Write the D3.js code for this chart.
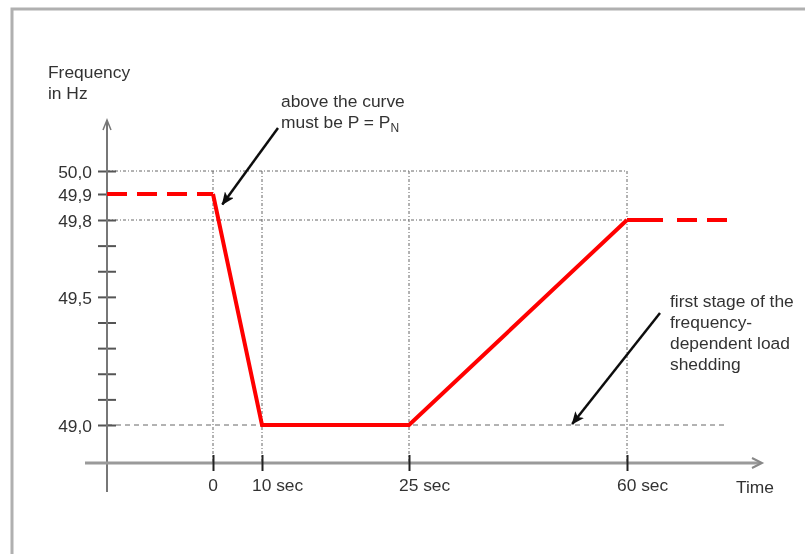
<!DOCTYPE html>
<html>
<head>
<meta charset="utf-8">
<script src="https://cdn.jsdelivr.net/npm/d3@7"></script>
<style>
  html, body { margin: 0; padding: 0; background: #fff; }
  svg { display: block; }
  text { font-family: "Liberation Sans", Arial, sans-serif; font-size: 17.4px; fill: #333; }
</style>
</head>
<body>
<script>
// ---- data ----
const times = [0, 10, 25, 60];                 // seconds
const freqs = [49.9, 49.0, 49.0, 49.8];        // Hz
const leadTimes = [-20, 0];                    // dashed lead-in (before t = 0)
const leadFreqs = [49.9, 49.9];
const tailTimes = [60, 75];                    // dashed continuation after 60 s
const tailFreqs = [49.8, 49.8];
const xTickLabels = ["0", "10 sec", "25 sec", "60 sec"];
const yTickValues = [49.0, 49.1, 49.2, 49.3, 49.4, 49.5, 49.6, 49.7, 49.8, 49.9, 50.0];
const yLabelledValues = [49.0, 49.5, 49.8, 49.9, 50.0];
const yGridValues = [50.0, 49.8];
const limitFreq = 49.0;
const yTitle = ["Frequency", "in Hz"];
const xTitle = "Time";
const note1 = ["above the curve", "must be P = P"];
const note1Sub = "N";
const note2 = ["first stage of the", "frequency-", "dependent load", "shedding"];

// ---- layout ----
const W = 805, H = 554;
const svg = d3.select("body").append("svg").attr("width", W).attr("height", H);

const defs = svg.append("defs");
defs.append("filter").attr("id", "soft")
  .append("feGaussianBlur").attr("stdDeviation", 0.35);
defs.append("marker").attr("id", "blackHead")
  .attr("markerUnits", "userSpaceOnUse")
  .attr("markerWidth", 13).attr("markerHeight", 11)
  .attr("refX", 12).attr("refY", 5.5).attr("orient", "auto")
  .append("path").attr("d", "M0,0 L13,5.5 L0,11 L3,5.5 Z").attr("fill", "#111");

const root = svg.append("g").attr("filter", "url(#soft)");

// piecewise time axis (the original is not drawn to scale)
const x = d3.scaleLinear()
  .domain([-20, 0, 10, 25, 60, 75])
  .range([107, 213, 262, 409, 627, 727]);
const y = d3.scaleLinear().domain([49, 49.8, 49.9, 50]).range([425, 220, 194, 171]);

const axisX0 = 107, axisY0 = 463;

// frame
root.append("path")
  .attr("d", `M12,${H} L12,9 L${W},9`)
  .attr("fill", "none").attr("stroke", "#b0b0b0").attr("stroke-width", 3);

// grid: vertical lines at the time marks
root.append("g").selectAll("line").data(times).join("line")
  .attr("x1", d => x(d)).attr("x2", d => x(d))
  .attr("y1", y(50)).attr("y2", axisY0)
  .attr("stroke", "#666").attr("stroke-width", 1).attr("stroke-dasharray", "3,2,1,2");

// grid: horizontal lines at 50.0 and 49.8
root.append("g").selectAll("line").data(yGridValues).join("line")
  .attr("x1", axisX0).attr("x2", x(60))
  .attr("y1", d => y(d)).attr("y2", d => y(d))
  .attr("stroke", "#666").attr("stroke-width", 1).attr("stroke-dasharray", "3,2,1,2");

// limit line at 49.0
root.append("line")
  .attr("x1", axisX0).attr("x2", x(75))
  .attr("y1", y(limitFreq)).attr("y2", y(limitFreq))
  .attr("stroke", "#666").attr("stroke-width", 1).attr("stroke-dasharray", "5,4");

// y axis ticks + labels
const fmt = v => d3.format(".1f")(v).replace(".", ",");
const yAxis = d3.axisLeft(y).tickValues(yTickValues)
  .tickSize(9).tickPadding(6)
  .tickFormat(v => yLabelledValues.some(l => Math.abs(l - v) < 1e-6) ? fmt(v) : "");
const gy = root.append("g").attr("transform", `translate(${axisX0},0)`).call(yAxis);
gy.select(".domain").remove();
gy.selectAll(".tick line").attr("x1", -9).attr("x2", 9)
  .attr("stroke", "#555").attr("stroke-width", 2);
gy.selectAll(".tick text")
  .style("font-family", "'Liberation Sans', Arial, sans-serif")
  .style("font-size", "17.4px").attr("fill", "#333").attr("dy", "0.36em");

// y axis line with open arrow
root.append("line").attr("x1", axisX0).attr("x2", axisX0).attr("y1", 121).attr("y2", 492)
  .attr("stroke", "#777").attr("stroke-width", 2);
root.append("path").attr("d", `M${axisX0 - 4},${130} L${axisX0},${120} L${axisX0 + 4},${130}`)
  .attr("fill", "none").attr("stroke", "#777").attr("stroke-width", 1.5);

// x axis line with arrow
root.append("line").attr("x1", 85).attr("x2", 760).attr("y1", axisY0).attr("y2", axisY0)
  .attr("stroke", "#9a9a9a").attr("stroke-width", 3);
root.append("path").attr("d", `M752,${axisY0 - 5} L762,${axisY0} L752,${axisY0 + 5}`)
  .attr("fill", "none").attr("stroke", "#888").attr("stroke-width", 2);

// x axis ticks + labels
const xAxis = d3.axisBottom(x).tickValues(times).tickSize(8).tickFormat("");
const gx = root.append("g").attr("transform", `translate(0,${axisY0})`).call(xAxis);
gx.select(".domain").remove();
gx.selectAll(".tick line").attr("y1", -8).attr("y2", 8)
  .attr("stroke", "#222").attr("stroke-width", 2);
root.append("g").selectAll("text").data(times).join("text")
  .attr("x", (d, i) => i === 0 ? x(d) : x(d) - 10)
  .attr("y", 491)
  .attr("text-anchor", (d, i) => i === 0 ? "middle" : "start")
  .text((d, i) => xTickLabels[i]);

root.append("text").attr("x", 736).attr("y", 493).text(xTitle);

// y title
root.append("g").selectAll("text").data(yTitle).join("text")
  .attr("x", 48).attr("y", (d, i) => 78 + i * 21).text(d => d);

// curve
const line = d3.line().x(d => x(d[0])).y(d => y(d[1]));
root.append("path")
  .datum(leadTimes.map((t, i) => [t, leadFreqs[i]]))
  .attr("d", line).attr("fill", "none")
  .attr("stroke", "#ff0000").attr("stroke-width", 4).attr("stroke-dasharray", "20,10");
root.append("path")
  .datum(tailTimes.map((t, i) => [t, tailFreqs[i]]))
  .attr("d", line).attr("fill", "none")
  .attr("stroke", "#ff0000").attr("stroke-width", 4).attr("stroke-dasharray", "36,14,20,10,20,10");
root.append("path")
  .datum(times.map((t, i) => [t, freqs[i]]))
  .attr("d", line).attr("fill", "none")
  .attr("stroke", "#ff0000").attr("stroke-width", 4).attr("stroke-linejoin", "miter");

// annotation 1
root.append("line")
  .attr("x1", 278).attr("y1", 128)
  .attr("x2", x(1.9)).attr("y2", y(49.86))
  .attr("stroke", "#111").attr("stroke-width", 2.5).attr("marker-end", "url(#blackHead)");
const n1 = root.append("g");
n1.append("text").attr("x", 281).attr("y", 107).text(note1[0]);
const t2 = n1.append("text").attr("x", 281).attr("y", 128).text(note1[1]);
t2.append("tspan").attr("dy", 4).style("font-size", "12px").text(note1Sub);

// annotation 2
root.append("line")
  .attr("x1", 660).attr("y1", 313)
  .attr("x2", x(51.2)).attr("y2", y(limitFreq) - 1)
  .attr("stroke", "#111").attr("stroke-width", 2.5).attr("marker-end", "url(#blackHead)");
root.append("g").selectAll("text").data(note2).join("text")
  .attr("x", 670).attr("y", (d, i) => 307 + i * 21).text(d => d);
</script>
</body>
</html>
